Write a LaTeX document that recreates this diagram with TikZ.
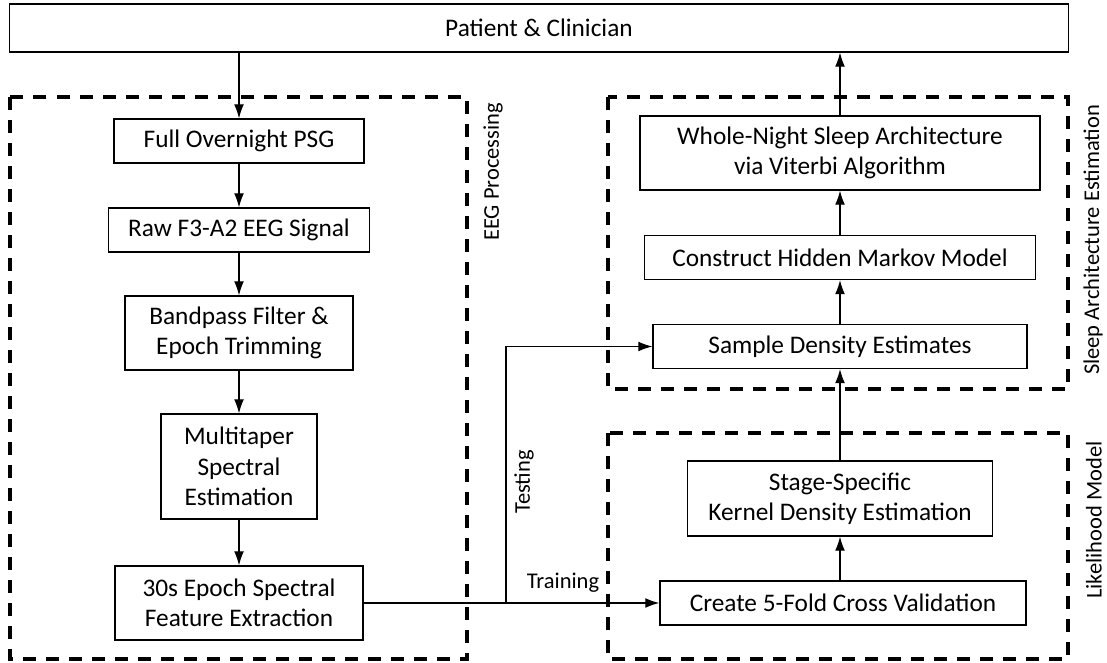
\documentclass[tikz,border=0pt]{standalone}
\usepackage{fontspec}
\setmainfont{Carlito}
\usepackage{tikz}
\usetikzlibrary{arrows.meta,positioning,calc}
\newcommand{\boxfont}{\fontsize{18}{21.6}\selectfont}
\newcommand{\tagfont}{\fontsize{16}{19}\selectfont}
\tikzset{
  stagebox/.style={draw, line width=0.9pt, align=center, inner sep=0pt,
    minimum height=1.1cm, font=\boxfont},
  groupbox/.style={draw, line width=2.4pt, dash pattern=on 0.325cm off 0.25cm},
  grouplabel/.style={rotate=90, font=\tagfont, inner sep=0pt},
  flowlabel/.style={font=\tagfont, inner sep=0pt},
  arrow/.style={-{Latex[length=10pt,width=7pt]}, line width=0.8pt},
  link/.style={line width=0.8pt}
}

\begin{document}
\begin{tikzpicture}[x=0.025cm, y=-0.025cm]
  \useasboundingbox (0,0) rectangle (1107,663);
  % dashed groups
  \draw[groupbox] (10,97) rectangle (467,659);
  \draw[groupbox] (608,97) rectangle (1068,389);
  \draw[groupbox] (608,433) rectangle (1068,659);
  \node[grouplabel] (eeglabel) at (493,172) {EEG Processing};
  \node[grouplabel] (sleeplabel) at (1093,240) {Sleep Architecture Estimation};
  \node[grouplabel] (likelabel) at (1094,520) {Likelihood Model};

  \node[stagebox, minimum width=26.45cm, minimum height=1.2cm] (patient) at (539,28) {Patient \& Clinician};
  % left column
  \node[stagebox, minimum width=6.25cm] (psg) at (239,141) {Full Overnight PSG};
  \node[stagebox, minimum width=6.525cm] (raw) at (239,230) {Raw F3-A2 EEG Signal};
  \node[stagebox, minimum width=5.7cm, minimum height=1.85cm] (bandpass) at (239,333) {Bandpass Filter \&\\Epoch Trimming};
  \node[stagebox, minimum width=3.9cm, minimum height=2.625cm] (multitaper) at (239,466.5) {Multitaper\\Spectral\\Estimation};
  \node[stagebox, minimum width=6.2cm, minimum height=1.85cm] (feature) at (239,603) {30s Epoch Spectral\\Feature Extraction};
  % right column
  \node[stagebox, minimum width=10cm, minimum height=1.85cm] (viterbi) at (840,153) {Whole-Night Sleep Architecture\\via Viterbi Algorithm};
  \node[stagebox, minimum width=9.775cm] (hmm) at (840,257.5) {Construct Hidden Markov Model};
  \node[stagebox, minimum width=9.35cm] (sample) at (840,346.5) {Sample Density Estimates};
  \node[stagebox, minimum width=7.625cm, minimum height=1.875cm] (kde) at (840,498.5) {Stage-Specific\\Kernel Density Estimation};
  \node[stagebox, minimum width=9.15cm] (crossval) at (843,603) {Create 5-Fold Cross Validation};

  \coordinate (split) at (506,603);
  \node[flowlabel] (training) at (563,583) {Training};
  \node[flowlabel, rotate=90] (testing) at (524,482) {Testing};

  \draw[arrow] (patient.south -| psg) -- (psg);
  \draw[arrow] (psg) -- (raw);
  \draw[arrow] (raw) -- (bandpass);
  \draw[arrow] (bandpass) -- (multitaper);
  \draw[arrow] (multitaper) -- (feature);
  \draw[link] (feature.east) -- (split);
  \draw[arrow] (split) -- (crossval.west);
  \draw[arrow] (split) |- (sample.west);
  \draw[arrow] (crossval.north -| kde) -- (kde);
  \draw[arrow] (kde) -- (sample);
  \draw[arrow] (sample) -- (hmm);
  \draw[arrow] (hmm) -- (viterbi);
  \draw[arrow] (viterbi) -- (patient.south -| viterbi);
\end{tikzpicture}
\end{document}
